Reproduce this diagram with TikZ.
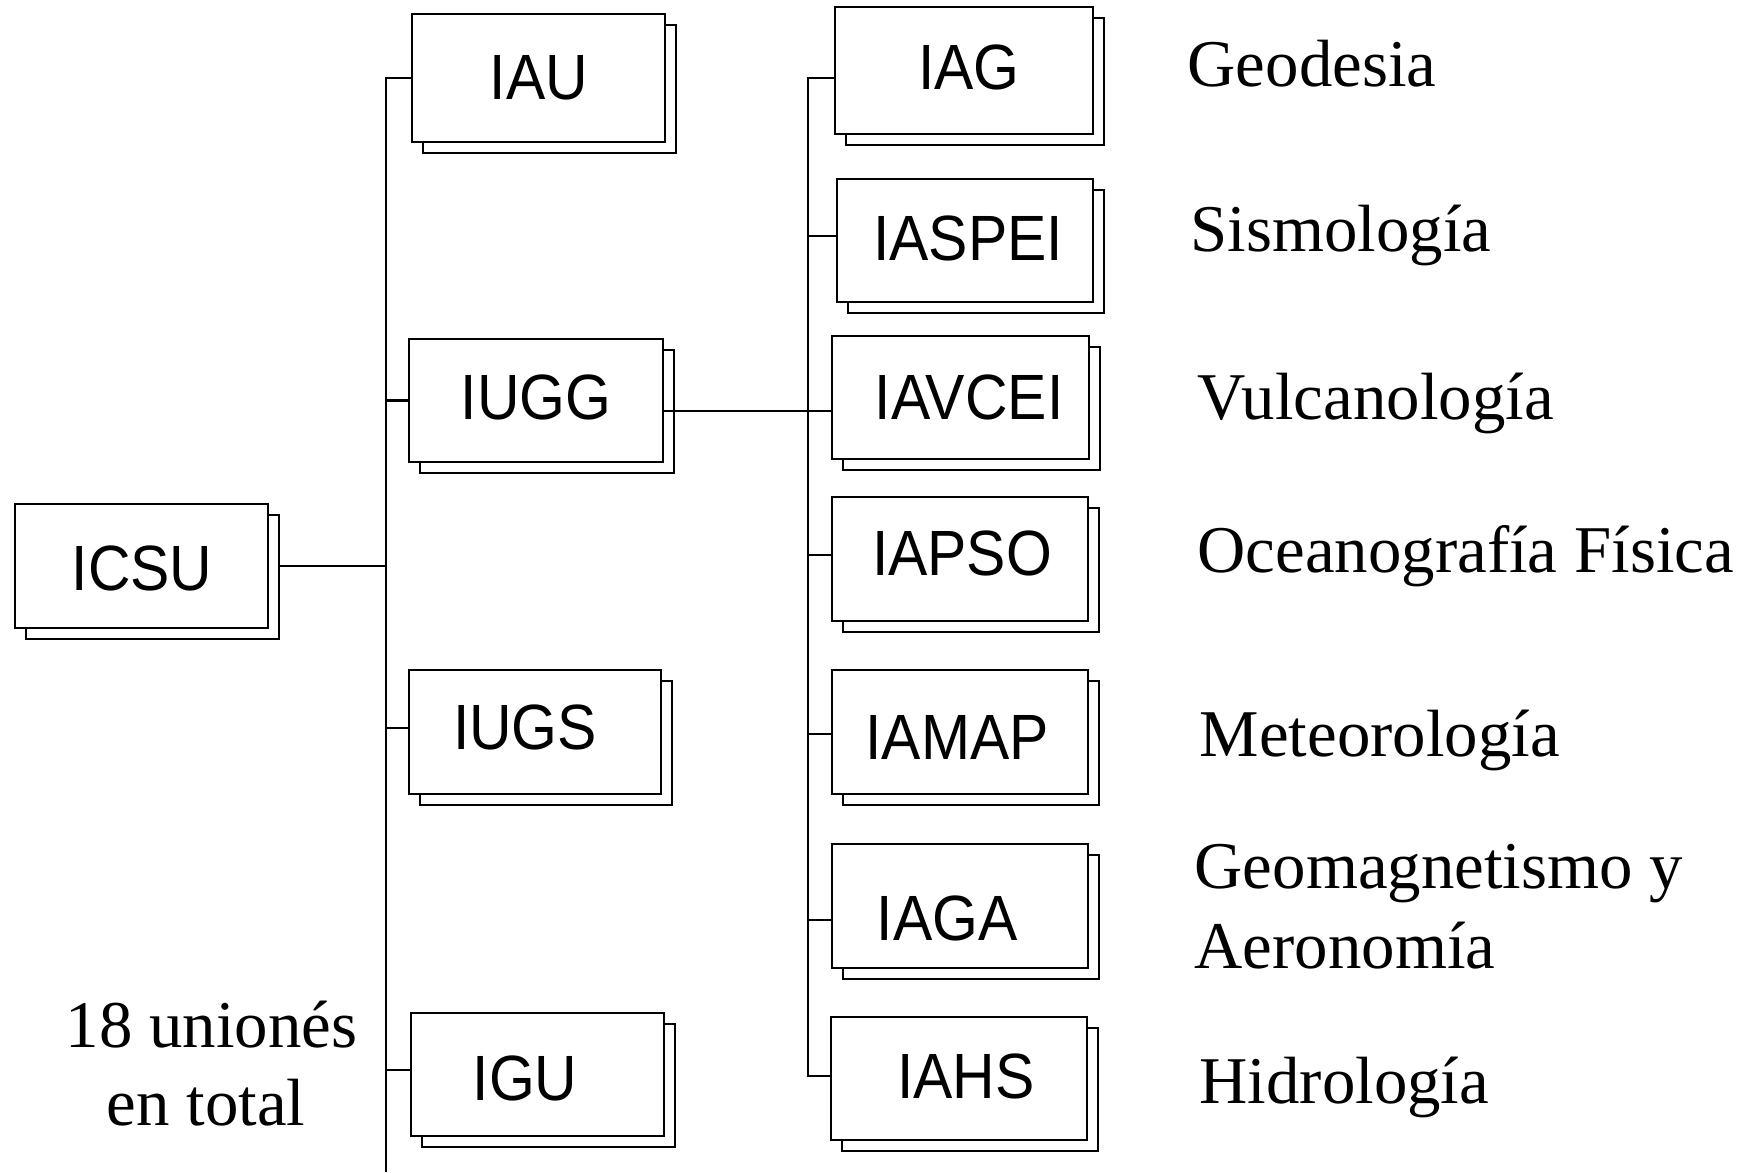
\documentclass[tikz,border=0pt]{standalone}
\usepackage{fontspec}
\setmainfont{Liberation Serif}
\newfontfamily\boxfont[FakeStretch=0.92]{Liberation Sans}
\usetikzlibrary{calc}
\tikzset{
  frbox/.style={draw=black, line width=0.65pt, fill=white, inner sep=0pt, outer sep=0pt},
  shbox/.style={draw=black, line width=0.65pt, fill=white, inner sep=0pt, outer sep=0pt},
  utext/.style={font=\boxfont\fontsize{18.2}{20}\selectfont, inner sep=0pt},
  lbl/.style={font=\fontsize{19.0}{23}\selectfont, anchor=base west, inner sep=0pt},
  conn/.style={draw=black, line width=0.65pt},
}
\newcommand\ubox[8]{%
  \node[shbox, minimum width=#4*0.01cm, minimum height=#5*0.01cm] (#1-sh) at (#2+11,#3+11) {};
  \node[frbox, minimum width=#4*0.01cm, minimum height=#5*0.01cm] (#1) at (#2,#3) {};
  \node[utext] (#1-t) at (#6,#7) {#8};
}
\begin{document}
\begin{tikzpicture}[x=0.01cm, y=-0.01cm]
\useasboundingbox (0,0) rectangle (1752,1172);
% boxes
\ubox{icsu}{141.5}{566}{253}{124}{142}{568}{ICSU}
\ubox{iau}{538.5}{78}{253}{128}{539}{78}{IAU}
\ubox{iugg}{536}{400.5}{254}{123}{536}{397}{IUGG}
\ubox{iugs}{535}{732}{252}{124}{525}{727}{IUGS}
\ubox{igu}{537.5}{1074.5}{253}{123}{525}{1078}{IGU}
\ubox{iag}{964}{70.5}{258}{127}{969}{67}{IAG}
\ubox{iaspei}{965}{240.5}{256}{123}{968}{238}{IASPEI}
\ubox{iavcei}{960.5}{397.5}{257}{123}{969}{397}{IAVCEI}
\ubox{iapso}{960}{559}{256}{124}{962}{553}{IAPSO}
\ubox{iamap}{960}{732}{256}{124}{957}{737}{IAMAP}
\ubox{iaga}{960}{906}{256}{124}{947}{918}{IAGA}
\ubox{iahs}{959}{1078.5}{256}{123}{966}{1076}{IAHS}
% coordinates
\coordinate (mbot) at (386,1172);
\coordinate (sv) at (808,600);
% main connectors
\draw[conn] (iau.west) -| (mbot);
\draw[conn] (icsu-sh.east |- icsu.east) -- (icsu.east -| mbot);
\draw[conn] (iugg.west -| mbot) -- (iugg.west);
\draw[conn] ([yshift=0.04cm]iugs.west -| mbot) -- ([yshift=0.04cm]iugs.west);
\draw[conn] ([yshift=0.045cm]igu.west -| mbot) -- ([yshift=0.045cm]igu.west);
% second level
\draw[conn] ([yshift=-0.075cm]iag.west) -| (sv) |- ([yshift=0.025cm]iahs.west);
\draw[conn] ([yshift=-0.105cm]iugg.east) -- ([yshift=-0.105cm]iugg.east -| sv);
\draw[conn] ([yshift=0.045cm]iaspei.west -| sv) -- ([yshift=0.045cm]iaspei.west);
\draw[conn] ([yshift=-0.135cm]iavcei.west -| sv) -- ([yshift=-0.135cm]iavcei.west);
\draw[conn] ([yshift=0.04cm]iapso.west -| sv) -- ([yshift=0.04cm]iapso.west);
\draw[conn] ([yshift=-0.02cm]iamap.west -| sv) -- ([yshift=-0.02cm]iamap.west);
\draw[conn] ([yshift=-0.14cm]iaga.west -| sv) -- ([yshift=-0.14cm]iaga.west);
% labels
\node[lbl] (l1) at (1187,86) {Geodesia};
\node[lbl] (l2) at (1190,251) {Sismología};
\node[lbl] (l3) at (1197,419) {Vulcanología};
\node[lbl] (l4) at (1197,572) {Oceanografía Física};
\node[lbl] (l5) at (1199,756) {Meteorología};
\node[lbl] (l6) at (1194,888) {Geomagnetismo y};
\node[lbl] (l7) at (1194,968) {Aeronomía};
\node[lbl] (l8) at (1199,1103) {Hidrología};
\node[lbl] (t1) at (65,1047) {18 unionés};
\node[lbl] (t2) at (106,1125) {en total};
\end{tikzpicture}
\end{document}
